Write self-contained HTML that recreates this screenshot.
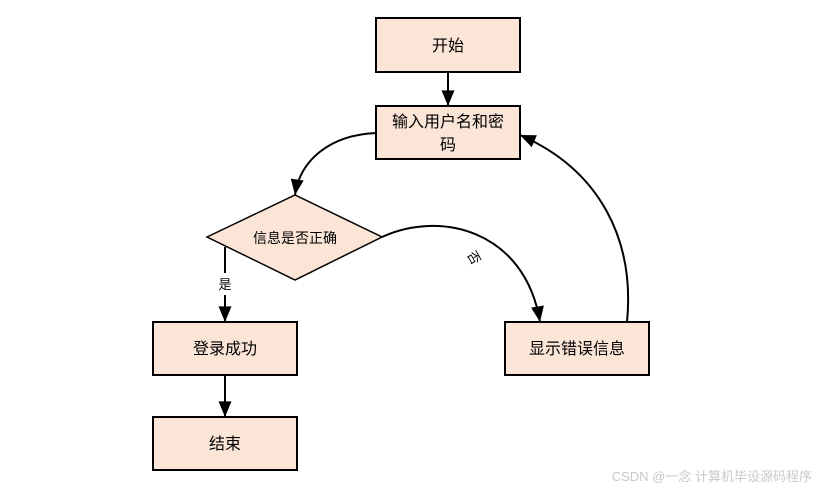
<!DOCTYPE html>
<html><head><meta charset="utf-8"><style>
html,body{margin:0;padding:0;background:#fff;}
svg{display:block;font-family:"Liberation Sans","Noto Sans CJK SC",sans-serif;}
</style></head><body>
<svg width="817" height="490" viewBox="0 0 817 490">
<defs>
<marker id="a" viewBox="0 0 10 10" refX="10" refY="5" markerWidth="5" markerHeight="6" orient="auto" markerUnits="userSpaceOnUse" >
<path d="M0,0 L10,5 L0,10 z" fill="#000"/>
</marker>
<marker id="b" viewBox="0 0 12 10" refX="12" refY="5" markerWidth="16" markerHeight="13" orient="auto" markerUnits="userSpaceOnUse">
<path d="M0,0 L12,5 L0,10 z" fill="#000"/>
</marker>
</defs>
<g fill="#fbe5d6" stroke="#000" stroke-width="2">
<rect x="376" y="18" width="144" height="54"/>
<rect x="376" y="106" width="144" height="53"/>
<rect x="153" y="322" width="144" height="53"/>
<rect x="153" y="417" width="144" height="53"/>
<rect x="505" y="322" width="144" height="53"/>
<polygon points="207,237 295,195 382,237 295,280" stroke="#000" stroke-width="1.5"/>
</g>
<g fill="none" stroke="#000" stroke-width="2">
<path d="M448,72 L448,106" marker-end="url(#b)"/>
<path d="M376,133 C330,135 300,160 295,195" marker-end="url(#b)"/>
<path d="M225,247 L225,273"/>
<path d="M225,295 L225,322" marker-end="url(#b)"/>
<path d="M382,237 C440,210 525,230 540,322" marker-end="url(#b)"/>
<path d="M627,322 C635,240 600,170 520,135" marker-end="url(#b)"/>
<path d="M225,375 L225,417" marker-end="url(#b)"/>
</g>
<g font-size="16" text-anchor="middle" fill="#000">
<text x="448" y="51">开始</text>
<text x="448" y="127">输入用户名和密</text>
<text x="448" y="150">码</text>
<text x="295" y="243" font-size="14">信息是否正确</text>
<text x="225" y="354">登录成功</text>
<text x="225" y="449">结束</text>
<text x="577" y="354">显示错误信息</text>
<text x="225" y="289" font-size="13">是</text>
<text x="0" y="0" font-size="13" transform="translate(470,260) rotate(60)">否</text>
</g>
<text x="812" y="481" font-size="13" fill="#c8c8c8" text-anchor="end">CSDN @一念 计算机毕设源码程序</text>
</svg>
</body></html>
